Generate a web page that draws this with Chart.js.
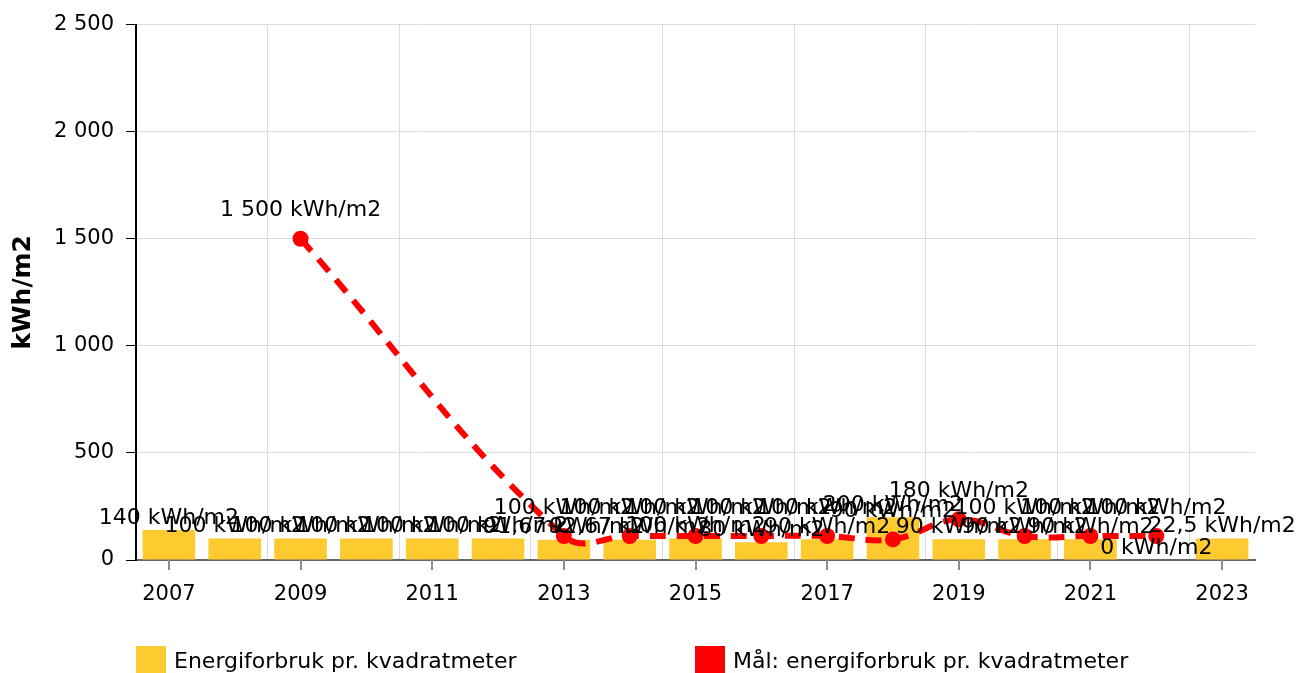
<!DOCTYPE html>
<html>
<head>
<meta charset="utf-8">
<script src="https://cdn.jsdelivr.net/npm/chart.js@4.4.0/dist/chart.umd.min.js"></script>
<style>
  html, body { margin: 0; padding: 0; background: #fff; }
  #wrap { position: relative; width: 1297px; height: 673px; overflow: hidden; font-family: "DejaVu Sans", sans-serif; }
  #legend { position: absolute; top: 646px; left: 0; width: 1297px; height: 40px; font-size: 22px; line-height: 26px; color: #000; }
  .item { position: absolute; top: 0; white-space: nowrap; }
  .box { position: absolute; left: 0; top: 0; width: 30px; height: 28px; }
  .txt { position: absolute; left: 38px; top: 2px; }
</style>
</head>
<body>
<div id="wrap">
  <canvas id="chart" width="1297" height="673"></canvas>
  <div id="legend"></div>
</div>
<script>
"use strict"

const years = ['2007', '2008', '2009', '2010', '2011', '2012', '2013', '2014', '2015',
    '2016', '2017', '2018', '2019', '2020', '2021', '2022', '2023']

// Energiforbruk pr. kvadratmeter (søyler)
const usageValues = [140, 100, 100, 100, 100, 100, 95, 95, 100, 83, 97, 200, 97, 97, 97, 0, 100]
const usageLabels = ['140', '100', '100', '100', '100', '100', '91,67', '92,67', '100', '80', '90',
    '200', '90', '90', '90', '0', '22,5']

// Mål: energiforbruk pr. kvadratmeter (linje)
const targetValues = [null, null, 1500, null, null, null, 112, 112, 112, 112, 112, 96, 190, 112, 112, 112, null]
const targetLabels = [null, null, '1 500', null, null, null, '100', '100', '100', '100', '100', '90',
    '180', '100', '100', '100', null]

const yTicks = [0, 500, 1000, 1500, 2000, 2500]

const seriesNames = ['Energiforbruk pr. kvadratmeter', 'Mål: energiforbruk pr. kvadratmeter']
const seriesColors = ['rgb(253, 202, 48)', '#ff0000']

const FONT = '"DejaVu Sans", sans-serif'

const format_number = (v) => String(v).replace(/\B(?=(\d{3})+(?!\d))/g, '\u00a0')

// small tick marks under the x axis, centred on the labelled categories
const tick_marks = {
    id: 'tickMarks',
    afterDraw(chart) {
        const ctx = chart.ctx
        const x = chart.scales.x
        ctx.save()
        ctx.strokeStyle = '#8c8c8c'
        ctx.lineWidth = 2
        x.ticks.forEach((t, i) => {
            if (i % 2 !== 0) return
            const px = Math.round(x.getPixelForTick(i))
            ctx.beginPath()
            ctx.moveTo(px, x.top)
            ctx.lineTo(px, x.top + 10)
            ctx.stroke()
        })
        ctx.restore()
    }
}

// value labels above bars and points
const value_labels = {
    id: 'valueLabels',
    afterDatasetsDraw(chart) {
        const ctx = chart.ctx
        ctx.save()
        ctx.font = `22px ${FONT}`
        ctx.fillStyle = '#000'
        ctx.textAlign = 'center'
        ctx.textBaseline = 'middle'
        const draw = (datasetIndex, texts, offset) => {
            chart.getDatasetMeta(datasetIndex).data.forEach((el, i) => {
                if (texts[i] == null) return
                ctx.fillText(`${texts[i]} kWh/m2`, el.x, el.y - offset)
            })
        }
        draw(1, usageLabels, 12)
        draw(0, targetLabels, 28)
        ctx.restore()
    }
}

const canvas = document.getElementById('chart').getContext('2d')

new Chart(canvas, {
    type: 'bar',
    data: {
        labels: years,
        datasets: [{
            type: 'line',
            label: seriesNames[1],
            data: targetValues,
            borderColor: seriesColors[1],
            backgroundColor: seriesColors[1],
            borderWidth: 6,
            borderDash: [16, 11],
            pointRadius: 8,
            pointHoverRadius: 8,
            pointBorderWidth: 0,
            tension: 0.4,
            spanGaps: true,
            order: 0
        }, {
            type: 'bar',
            label: seriesNames[0],
            data: usageValues,
            backgroundColor: seriesColors[0],
            barPercentage: 0.8,
            categoryPercentage: 1,
            order: 1
        }]
    },
    options: {
        responsive: false,
        animation: false,
        layout: { padding: { top: 24, right: 42, left: 0, bottom: 0 } },
        plugins: {
            legend: { display: false },
            tooltip: { enabled: false }
        },
        scales: {
            x: {
                offset: true,
                grid: {
                    offset: true,
                    drawTicks: false,
                    lineWidth: 1,
                    color: (c) => c.index % 2 === 0 ? '#dcdcdc' : 'rgba(0,0,0,0)'
                },
                border: { color: '#666', width: 2 },
                ticks: {
                    autoSkip: false,
                    maxRotation: 0,
                    padding: 22,
                    color: '#000',
                    font: { family: FONT, size: 21 },
                    callback: function (v, i) { return i % 2 === 0 ? this.getLabelForValue(v) : '' }
                },
                afterFit: (s) => { s.height = 113 }
            },
            y: {
                min: yTicks[0],
                max: yTicks[yTicks.length - 1],
                afterBuildTicks: (s) => { s.ticks = yTicks.map(v => ({ value: v })) },
                ticks: {
                    padding: 12,
                    color: '#000',
                    font: { family: FONT, size: 21 },
                    callback: (v) => format_number(v)
                },
                grid: { color: '#dcdcdc', tickColor: '#000', tickLength: 10, lineWidth: 1 },
                border: { color: '#000', width: 2 },
                title: {
                    display: true,
                    text: 'kWh/m2',
                    color: '#000',
                    font: { family: FONT, size: 25, weight: 'bold' },
                    padding: { top: 8, bottom: 0 }
                },
                afterFit: (s) => { s.width = 136 }
            }
        }
    },
    plugins: [tick_marks, value_labels]
})

// legend
const legend = document.getElementById('legend')
const legendLeft = [136, 695]
seriesNames.forEach((name, i) => {
    const item = document.createElement('div')
    item.className = 'item'
    item.style.left = `${legendLeft[i]}px`
    item.innerHTML = `<div class="box" style="background:${seriesColors[i]}"></div><div class="txt">${name}</div>`
    legend.appendChild(item)
})
</script>
</body>
</html>
